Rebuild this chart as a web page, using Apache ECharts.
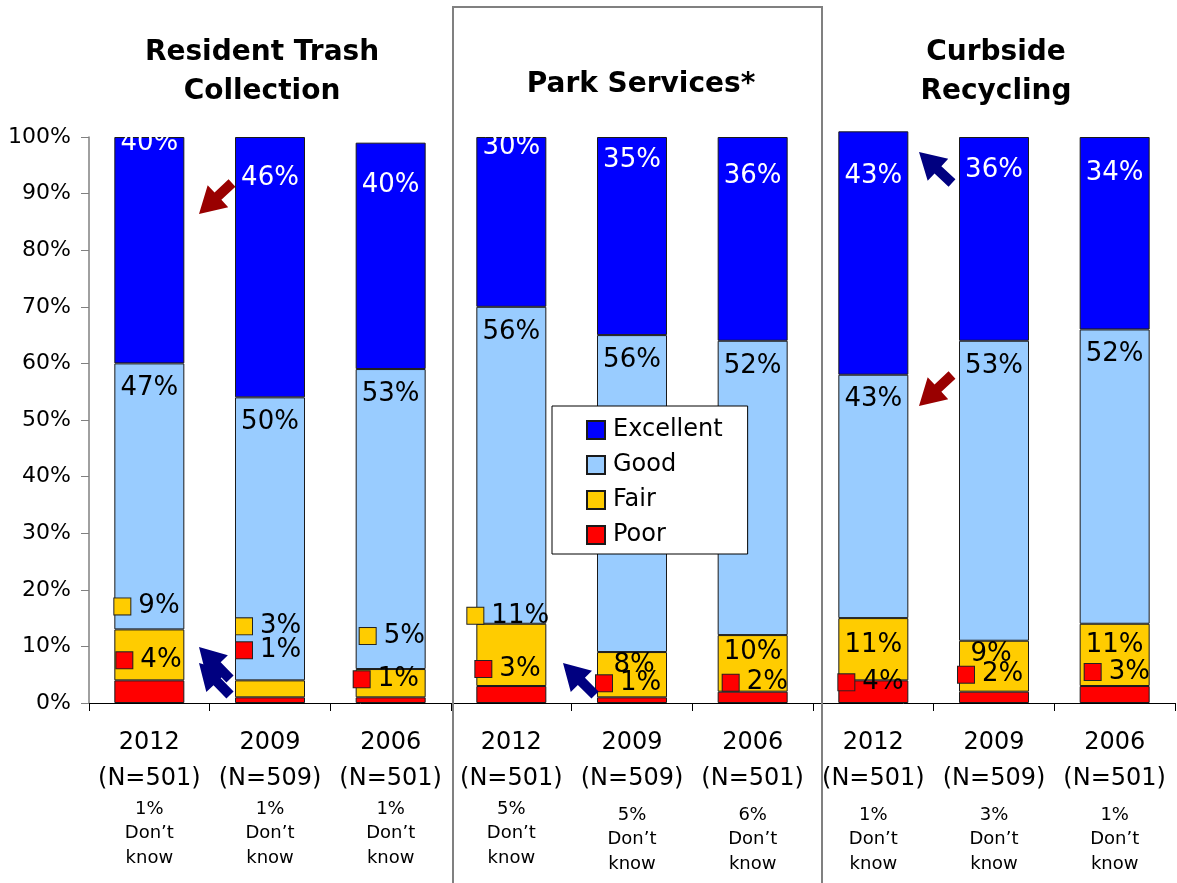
<!DOCTYPE html>
<html>
<head>
<meta charset="utf-8">
<title>Service ratings</title>
<script src="https://cdn.jsdelivr.net/npm/echarts@6/dist/echarts.min.js"></script>
<style>
  html, body { margin: 0; padding: 0; background: #fff; }
  #chart { width: 1177px; height: 883px; }
</style>
</head>
<body>
<div id="chart"></div>
<script>
// survey years, sample sizes, don't know share
const years = ['2012', '2009', '2006', '2012', '2009', '2006', '2012', '2009', '2006']
const sampleN = ['501', '509', '501', '501', '509', '501', '501', '509', '501']
const dontKnow = ['1%', '1%', '1%', '5%', '5%', '6%', '1%', '3%', '1%']
const groups = ['Resident Trash\nCollection', 'Park Services*', 'Curbside\nRecycling']

const poor = [4, 1, 1, 3, 1, 2, 4, 2, 3]
const fair = [9, 3, 5, 11, 8, 10, 11, 9, 11]
const good = [47, 50, 53, 56, 56, 52, 43, 53, 52]
const excellent = [40, 46, 40, 30, 35, 36, 43, 36, 34]

const yTicks = [0, 10, 20, 30, 40, 50, 60, 70, 80, 90, 100]

const colors = {
    Excellent: '#0000ff',
    Good: '#99ccff',
    Fair: '#ffcc00',
    Poor: '#ff0000'
}

// label placement (relative to segment top-left), copied from the slide
const poorLabelPos = [[2, -20], [1, -47], [-2, -18], [-1, -17], [-1, -14], [5, -9], [0, 2], [-1, -17], [5, -14]]
const fairLabelPos = [[0, -23], [1, -54], [4, -33], [-9, -8], [37, 13], [35, 17], [35, 27], [32, 14], [35, 21]]
const fairWithKey = [true, true, true, true, false, false, false, false, false]
const excellentLabelY = [6, 41, 43, 10, 23, 39, 45, 33, 36]

const FS = 26
const FONT = '"DejaVu Sans", Verdana, sans-serif'

function keyLabel(name, values, pos, withKey, textColor) {
    return values.map(function (v, i) {
        let useKey = withKey === true || (Array.isArray(withKey) && withKey[i])
        return {
            value: v,
            label: {
                show: true,
                position: pos[i],
                align: useKey ? 'left' : 'center',
                verticalAlign: 'middle',
                formatter: useKey ? '{k|}{t|' + v + '%}' : '{t|' + v + '%}',
                rich: {
                    k: {
                        width: 16,
                        height: 16,
                        backgroundColor: colors[name],
                        borderColor: '#222',
                        borderWidth: 1
                    },
                    t: {
                        fontSize: FS,
                        fontFamily: FONT,
                        color: textColor,
                        padding: useKey ? [0, 0, 0, 8] : 0
                    }
                }
            }
        }
    })
}

function arrow(x1, y1, x2, y2, color) {
    let dx = x2 - x1, dy = y2 - y1
    let len = Math.sqrt(dx * dx + dy * dy)
    let ux = dx / len, uy = dy / len
    let nx = -uy, ny = ux
    let w = 5, h = 15, L = 26
    let bx = x2 - ux * L, by = y2 - uy * L
    return {
        type: 'polygon',
        z: 20,
        shape: {
            points: [
                [x1 + nx * w, y1 + ny * w],
                [bx + nx * w, by + ny * w],
                [bx + nx * h, by + ny * h],
                [x2, y2],
                [bx - nx * h, by - ny * h],
                [bx - nx * w, by - ny * w],
                [x1 - nx * w, y1 - ny * w]
            ]
        },
        style: { fill: color }
    }
}

const groupCenters = [262, 641, 996]
const titleGraphics = groups.map(function (g, i) {
    return {
        type: 'text',
        x: groupCenters[i],
        y: i === 1 ? 85 : 72,
        style: {
            text: g,
            align: 'center',
            verticalAlign: 'middle',
            font: 'bold 28px ' + FONT,
            lineHeight: 39,
            fill: '#000'
        }
    }
})

const barBorder = { borderColor: '#1a1a1a', borderWidth: 1 }

let myChart = echarts.init(document.getElementById('chart'))
myChart.setOption({
    animation: false,
    backgroundColor: '#fff',
    textStyle: { fontFamily: FONT },
    grid: {
        left: 89,
        right: 2,
        top: 137,
        bottom: 180,
        containLabel: false
    },
    legend: {
        orient: 'vertical',
        left: 552,
        top: 406,
        data: ['Excellent', 'Good', 'Fair', 'Poor'],
        icon: 'rect',
        itemWidth: 18,
        itemHeight: 18,
        itemGap: 11,
        padding: [12, 25, 7, 34],
        backgroundColor: '#fff',
        borderColor: '#000',
        borderWidth: 1,
        borderRadius: 0,
        z: 30,
        textStyle: { fontSize: 24, color: '#000', fontFamily: FONT, padding: [0, 0, 0, 3] }
    },
    xAxis: {
        type: 'category',
        data: years.map(function (y, i) { return String(i) }),
        axisLine: { lineStyle: { color: '#000', width: 1 } },
        axisTick: { show: true, length: 8, lineStyle: { color: '#000' } },
        axisLabel: {
            margin: 22,
            interval: 0,
            formatter: function (v) {
                let idx = Number(v)
                let small = idx <= 3 ? '{d1|' + dontKnow[idx] + '}' : '{s| }\n{d1|' + dontKnow[idx] + '}'
                return '{a|' + years[idx] + '}\n{a|(N=' + sampleN[idx] + ')}\n' + small +
                    '\n{d|Don’t}\n{d|know}'
            },
            rich: {
                a: { fontSize: 24, lineHeight: 36, color: '#000', fontFamily: FONT },
                s: { fontSize: 1, lineHeight: 6 },
                d1: { fontSize: 18, lineHeight: 24, color: '#000', fontFamily: FONT },
                d: { fontSize: 18, lineHeight: 25, color: '#000', fontFamily: FONT }
            }
        }
    },
    yAxis: {
        type: 'value',
        min: 0,
        max: 100,
        interval: 10,
        splitLine: { show: false },
        axisLine: { show: true, lineStyle: { color: '#808080', width: 1.5 } },
        axisTick: { show: true, length: 8, lineStyle: { color: '#808080' } },
        axisLabel: {
            margin: 18,
            fontSize: 22,
            color: '#000',
            fontFamily: FONT,
            formatter: function (v) {
                return yTicks.indexOf(v) >= 0 ? v + '%' : ''
            }
        }
    },
    series: [
        {
            name: 'Poor',
            type: 'bar',
            stack: 'rating',
            barWidth: 70,
            itemStyle: Object.assign({ color: colors.Poor }, barBorder),
            data: keyLabel('Poor', poor, poorLabelPos, true, '#000')
        },
        {
            name: 'Fair',
            type: 'bar',
            stack: 'rating',
            barWidth: 70,
            itemStyle: Object.assign({ color: colors.Fair }, barBorder),
            data: keyLabel('Fair', fair, fairLabelPos, fairWithKey, '#000')
        },
        {
            name: 'Good',
            type: 'bar',
            stack: 'rating',
            barWidth: 70,
            itemStyle: Object.assign({ color: colors.Good }, barBorder),
            label: {
                show: true,
                position: ['50%', 25],
                align: 'center',
                verticalAlign: 'middle',
                fontSize: FS,
                color: '#000',
                formatter: '{c}%'
            },
            data: good
        },
        {
            name: 'Excellent',
            type: 'bar',
            stack: 'rating',
            barWidth: 70,
            clip: false,
            itemStyle: Object.assign({ color: colors.Excellent }, barBorder),
            data: excellent.map(function (v, i) {
                return {
                    value: v,
                    label: {
                        show: true,
                        position: ['50%', excellentLabelY[i]],
                        align: 'center',
                        verticalAlign: 'middle',
                        fontSize: FS,
                        color: '#fff',
                        formatter: '{c}%'
                    }
                }
            })
        }
    ],
    graphic: titleGraphics.concat([
        {
            type: 'polyline',
            z: 15,
            shape: { points: [[453, 883], [453, 7], [822, 7], [822, 883]] },
            style: { stroke: '#808080', lineWidth: 2, fill: null }
        },
        arrow(232, 183, 199, 214, '#990000'),
        arrow(952, 375, 919, 406, '#990000'),
        arrow(230, 679, 199, 647, '#000080'),
        arrow(230, 695, 199, 663, '#000080'),
        arrow(595, 695, 563, 663, '#000080'),
        arrow(952, 183, 919, 152, '#000080')
    ])
})
</script>
</body>
</html>
